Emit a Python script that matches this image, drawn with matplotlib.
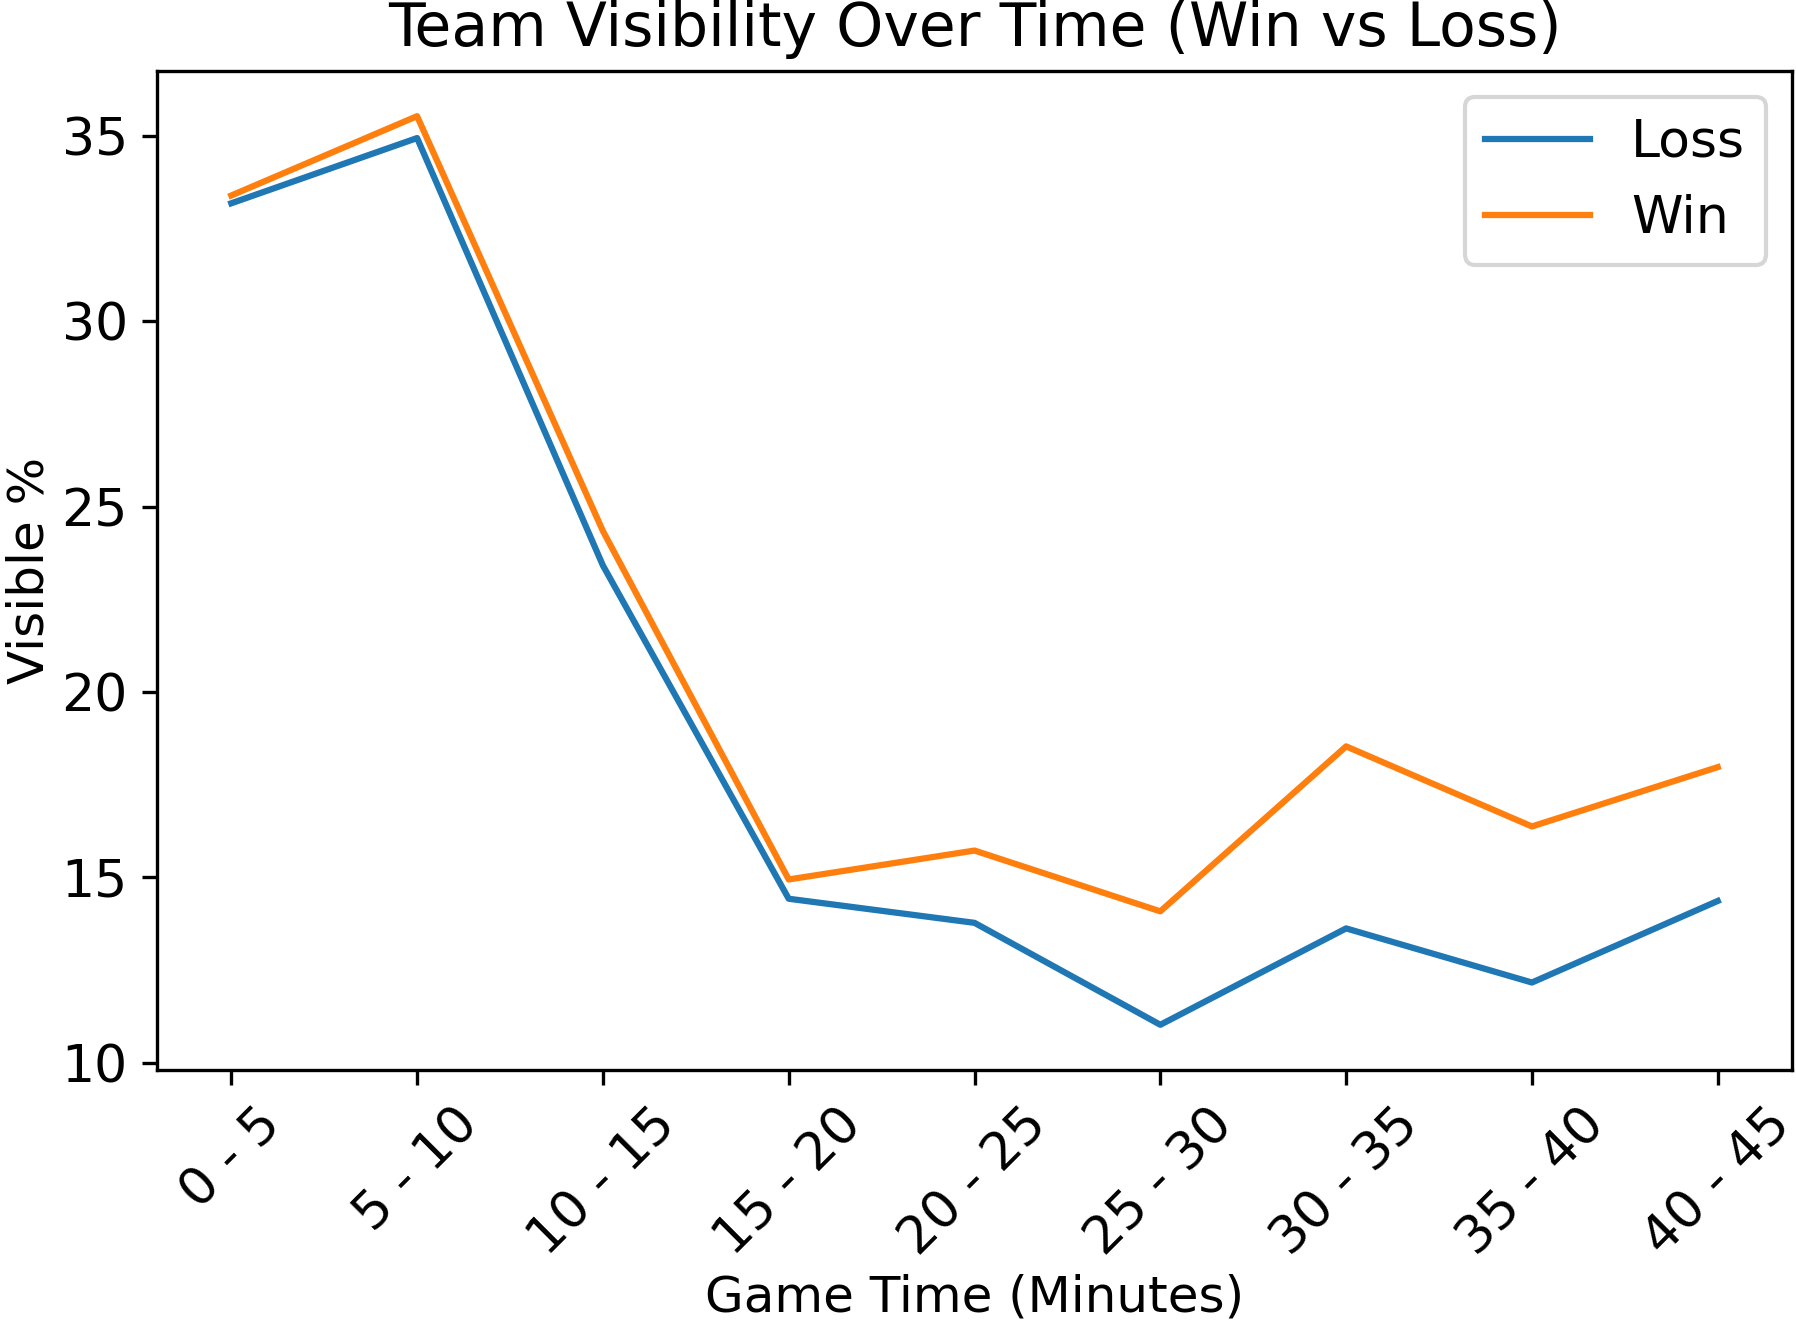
import matplotlib
matplotlib.use('Agg')
from matplotlib import pyplot as plt

periods = ['0 - 5', '5 - 10', '10 - 15', '15 - 20', '20 - 25',
           '25 - 30', '30 - 35', '35 - 40', '40 - 45']
loss = [33.18, 34.94, 23.41, 14.42, 13.77, 11.02, 13.62, 12.16, 14.36]
win = [33.39, 35.53, 24.34, 14.94, 15.72, 14.08, 18.53, 16.37, 17.97]

fig = plt.figure(figsize=(1796 / 300, 1321 / 300), dpi=300)
ax = fig.add_axes([0.0874, 0.190, 0.9104, 0.7563])

x = list(range(len(periods)))
ax.plot(x, loss, label='Loss', color='#1f77b4', linewidth=1.5)
ax.plot(x, win, label='Win', color='#ff7f0e', linewidth=1.5)

ax.set_xticks(x)
ax.set_xticklabels(periods, rotation=45, fontsize=12.5)
ax.set_yticks([10, 15, 20, 25, 30, 35])
ax.tick_params(axis='y', labelsize=12.5)
ax.set_ylim(9.8, 36.75)
ax.set_xlim(-0.4, 8.4)

ax.set_xlabel('Game Time (Minutes)', fontsize=12, labelpad=2)
ax.set_ylabel('Visible %', fontsize=12, labelpad=2)
ax.set_title('Team Visibility Over Time (Win vs Loss)', fontsize=14.4)
ax.legend(fontsize=12.5, loc='upper right')

fig.savefig('out.png', dpi=300)
